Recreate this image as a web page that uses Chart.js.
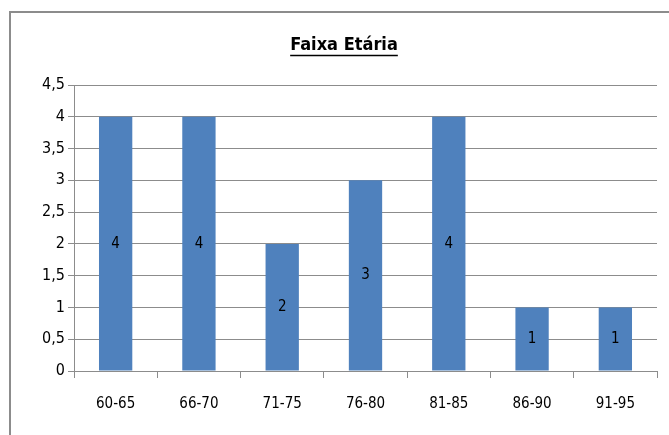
<!DOCTYPE html>
<html>
<head>
<meta charset="utf-8">
<script src="https://cdn.jsdelivr.net/npm/chart.js@4"></script>
<style>
  body { margin: 0; background: #fff; }
  #frame { position: absolute; left: 9px; top: 11px; width: 700px; height: 500px; border: 2px solid #8c8c8c; }
  #wrap { position: absolute; left: 0; top: 0; width: 669px; height: 435px; }
</style>
</head>
<body>
<div id="frame"></div>
<div id="wrap"><canvas id="chart" width="669" height="435"></canvas></div>
<script>
const categories = ['60-65', '66-70', '71-75', '76-80', '81-85', '86-90', '91-95'];
const counts = [4, 4, 2, 3, 4, 1, 1];
const yTicks = [0, 0.5, 1, 1.5, 2, 2.5, 3, 3.5, 4, 4.5];
const titleText = 'Faixa Etária';

const fontFamily = "'DejaVu Sans Condensed', 'Liberation Sans Narrow', Arial, sans-serif";

// labels in the middle of each bar
const barLabels = {
  id: 'barLabels',
  afterDatasetsDraw(chart) {
    const ctx = chart.ctx;
    const meta = chart.getDatasetMeta(0);
    ctx.save();
    ctx.font = '15px ' + fontFamily;
    ctx.fillStyle = '#000';
    ctx.textAlign = 'center';
    ctx.textBaseline = 'middle';
    meta.data.forEach((bar, i) => {
      const mid = (bar.y + bar.base) / 2;
      ctx.fillText(String(counts[i]), bar.x, mid);
    });
    ctx.restore();
  }
};

// underlined title, centred on the whole frame (which runs past the canvas)
const underlinedTitle = {
  id: 'underlinedTitle',
  afterDraw(chart) {
    const ctx = chart.ctx;
    const cx = 344;
    ctx.save();
    ctx.font = 'bold 18px ' + fontFamily;
    ctx.fillStyle = '#000';
    ctx.textAlign = 'center';
    ctx.textBaseline = 'middle';
    ctx.fillText(titleText, cx, 45);
    const w = ctx.measureText(titleText).width;
    ctx.strokeStyle = '#000';
    ctx.lineWidth = 1.3;
    ctx.beginPath();
    ctx.moveTo(cx - w / 2, 55.5);
    ctx.lineTo(cx + w / 2, 55.5);
    ctx.stroke();
    ctx.restore();
  }
};

new Chart(document.getElementById('chart'), {
  type: 'bar',
  data: {
    labels: categories,
    datasets: [{
      data: counts,
      backgroundColor: '#4f81bd',
      categoryPercentage: 0.4,
      barPercentage: 1.0
    }]
  },
  options: {
    responsive: false,
    animation: false,
    layout: { padding: { left: 0, right: 12, top: 85, bottom: 5 } },
    plugins: {
      legend: { display: false },
      tooltip: { enabled: false },
      title: { display: false }
    },
    scales: {
      x: {
        grid: { drawOnChartArea: false, offset: true, tickLength: 7, color: '#8c8c8c' },
        border: { color: '#8c8c8c' },
        ticks: { color: '#000', padding: 17, font: { family: fontFamily, size: 15 } }
      },
      y: {
        min: 0,
        max: 4.5,
        afterBuildTicks(axis) {
          axis.ticks = yTicks.map(v => ({ value: v }));
        },
        afterFit(axis) {
          axis.width = 74;
        },
        grid: { color: '#8c8c8c', tickLength: 6 },
        border: { color: '#8c8c8c' },
        ticks: {
          color: '#000',
          padding: 3,
          font: { family: fontFamily, size: 16 },
          callback: v => String(v).replace('.', ',')
        }
      }
    }
  },
  plugins: [barLabels, underlinedTitle]
});
</script>
</body>
</html>
